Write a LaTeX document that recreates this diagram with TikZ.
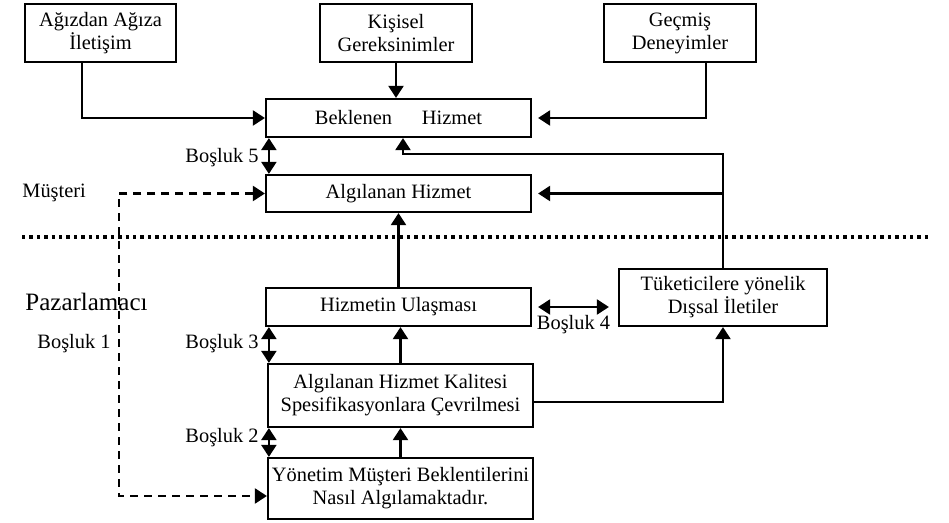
\documentclass[tikz,border=0pt]{standalone}
\usepackage{fontspec}
\setmainfont{Liberation Serif}
\usetikzlibrary{arrows.meta,positioning}
\tikzset{
  box/.style={draw, line width=1.1pt, align=center, inner sep=0pt, font=\fontsize{10.2}{11.5}\selectfont},
  lbl/.style={inner sep=0pt, font=\fontsize{10.2}{11.5}\selectfont},
  arr/.style={line width=1.1pt, -{Triangle[length=6pt,width=7.5pt]}},
  darr/.style={line width=1.1pt, {Triangle[length=6pt,width=7.5pt]}-{Triangle[length=6pt,width=7.5pt]}},
  sepline/.style={line width=1.7pt, dash pattern=on 1.7pt off 2pt},
}
\begin{document}
\begin{tikzpicture}[x=0.5pt,y=-0.5pt]
			\useasboundingbox (0,0) rectangle (949,523);
			\node[box, minimum width=75.5pt, minimum height=29pt] (WoM) at (100.5,33) {Ağızdan Ağıza\\İletişim} ;
			\node[box, minimum width=76pt, minimum height=29pt] (Needs) at (396,33) {Kişisel\\Gereksinimler} ;
			\node[box, minimum width=76pt, minimum height=29pt] (Past) at (680,33) {Geçmiş\\Deneyimler} ;
			\node[box, minimum width=132.5pt, minimum height=19pt] (Expected) at (398.5,118) {Beklenen\hspace{15pt}Hizmet} ;
			\node[box, minimum width=132.5pt, minimum height=18.5pt] (Perceived) at (398.5,193.5) {Algılanan Hizmet} ;
			\node[box, minimum width=132.5pt, minimum height=19pt] (Delivery) at (398.5,307) {Hizmetin Ulaşması} ;
			\node[box, minimum width=104pt, minimum height=28.5pt] (External) at (723,297.5) {Tüketicilere yönelik\\Dışsal İletiler} ;
			\node[box, minimum width=132.5pt, minimum height=31.5pt] (Specs) at (400.5,395.5) {Algılanan Hizmet Kalitesi\\Spesifikasyonlara Çevrilmesi} ;
			\node[box, minimum width=132.5pt, minimum height=30.5pt] (Mgmt) at (400.5,488.5) {Yönetim Müşteri Beklentilerini\\Nasıl Algılamaktadır.} ;
			\coordinate (SepL) at (22,237) ;
			\coordinate (SepR) at (930,237) ;
			\coordinate (DashCorner) at (119,496) ;
			\node[lbl, anchor=east] (Gap5) at (259,158) {Boşluk 5} ;
			\node[lbl, anchor=west] (Customer) at (22,193) {Müşteri} ;
			\node[lbl, anchor=west, font=\fontsize{12.5}{14}\selectfont] (Marketer) at (25,302) {Pazarlamacı} ;
			\node[lbl, anchor=east] (Gap1) at (111,344) {Boşluk 1} ;
			\node[lbl, anchor=east] (Gap3) at (259,344) {Boşluk 3} ;
			\node[lbl, anchor=east] (Gap2) at (259,438) {Boşluk 2} ;
			\draw[sepline] (SepL) -- (SepR) ;
			\draw[arr] ([xshift=-9.25pt]WoM.south) |- (Expected.west) ;
			\draw[arr] (Needs.south) -- (Needs.south |- Expected.north) ;
			\draw[arr, shorten >=3pt] ([xshift=13pt]Past.south) |- (Expected.east) ;
			\draw[arr] (External.north) -- ++(0,-114) -| ([xshift=2.25pt]Expected.south) ;
			\draw[arr, shorten >=3pt] (External.north |- Perceived.east) -- (Perceived.east) ;
			\draw[arr] (Delivery.north) -- (Perceived.south) ;
			\draw[arr] (Specs.north) -- (Specs.north |- Delivery.south) ;
			\draw[arr] (Mgmt.north) -- (Specs.south) ;
			\draw[arr] ([yshift=-3.25pt]Specs.east) -| (External.south) ;
			\draw[darr] ([xshift=2pt]Expected.south west) -- ([xshift=2pt]Perceived.north west) ;
			\draw[darr] ([xshift=2pt]Delivery.south west) -- ([xshift=2pt]Delivery.south west |- Specs.north) ;
			\draw[darr] ([xshift=1pt]Specs.south west) -- ([xshift=1pt]Mgmt.north west) ;
			\draw[darr] ([xshift=3pt]Delivery.east) -- coordinate (Gap4Mid) ([xshift=-4.5pt]Delivery.east -| External.west) ;
			\node[lbl, below=4pt of Gap4Mid] (Gap4) {Boşluk 4} ;
			\draw[darr, dashed, dash pattern=on 4pt off 3pt] (Perceived.west) -| (DashCorner) -- ([yshift=-3.75pt]Mgmt.west) ;
		\end{tikzpicture}
\end{document}
